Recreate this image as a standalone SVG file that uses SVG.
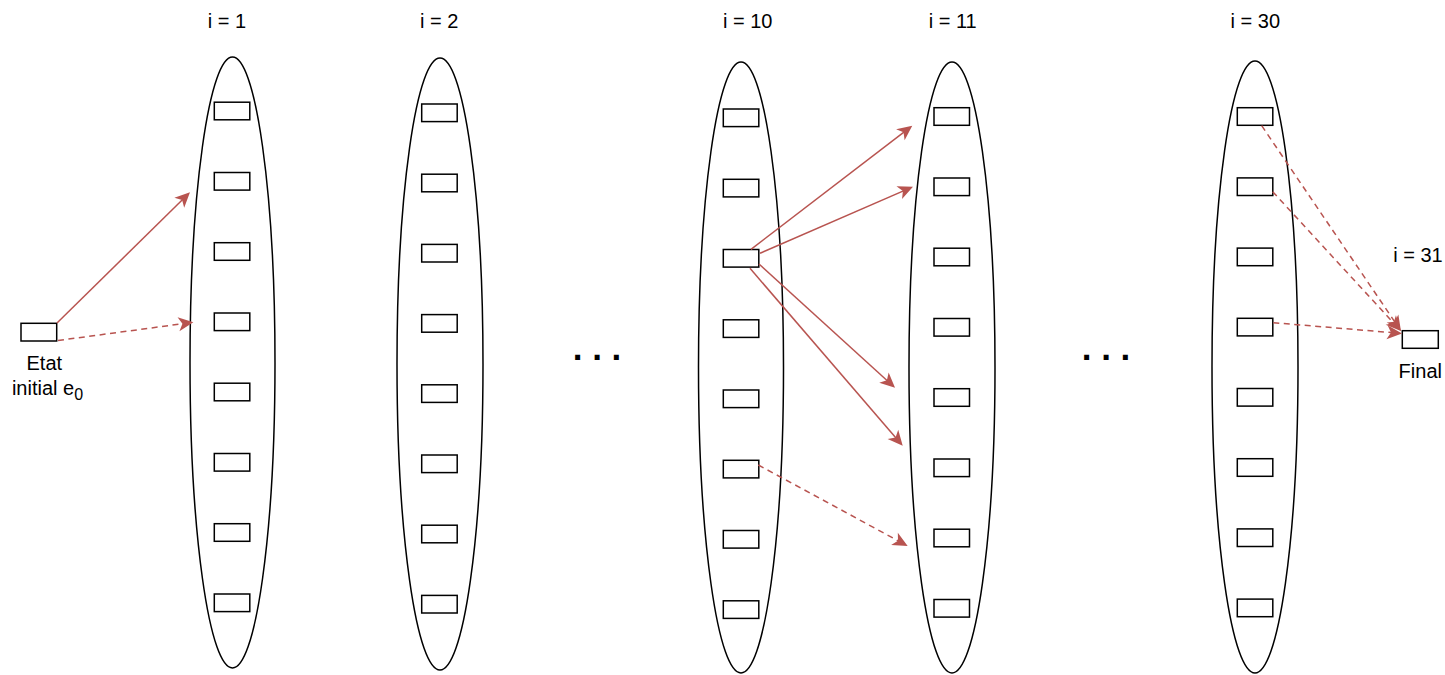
<svg xmlns="http://www.w3.org/2000/svg" width="1445" height="675" viewBox="0 0 1445 675">
<style>
.lane{fill:none;stroke:#000;stroke-width:1.5}
.st{fill:#fff;stroke:#000;stroke-width:1.5}
.lbl{font-family:"Liberation Sans",Arial,sans-serif;font-size:20px;fill:#000;text-anchor:middle}
.dots{font-family:"Liberation Sans",Arial,sans-serif;font-size:35px;font-weight:bold;fill:#000;text-anchor:middle}
.e{fill:none;stroke:#b85450;stroke-width:1.5;marker-end:url(#arr)}
.d{stroke-dasharray:6 4.5}
</style>
<defs>
<marker id="arr" markerUnits="userSpaceOnUse" viewBox="-17 -9 18 18" markerWidth="18" markerHeight="18" refX="-6" refY="0" orient="auto" overflow="visible">
<path d="M0,0 L-15,-7 L-11,0 L-15,7 Z" fill="#b85450" stroke="none"/>
</marker>
</defs>
<rect width="1445" height="675" fill="#fff"/>

<g id="col1">
<ellipse class="lane" cx="232.5" cy="362.5" rx="42.5" ry="305.5"/>
<rect class="st" x="214.3" y="102.2" width="35.5" height="17.6"/>
<rect class="st" x="214.3" y="172.5" width="35.5" height="17.6"/>
<rect class="st" x="214.3" y="242.7" width="35.5" height="17.6"/>
<rect class="st" x="214.3" y="313" width="35.5" height="17.6"/>
<rect class="st" x="214.3" y="383.2" width="35.5" height="17.6"/>
<rect class="st" x="214.3" y="453.5" width="35.5" height="17.6"/>
<rect class="st" x="214.3" y="523.7" width="35.5" height="17.6"/>
<rect class="st" x="214.3" y="594" width="35.5" height="17.6"/>
<text class="lbl" x="227" y="28">i = 1</text>
</g>

<g id="col2">
<ellipse class="lane" cx="440" cy="364" rx="43" ry="306"/>
<rect class="st" x="421.7" y="104" width="35.5" height="17.6"/>
<rect class="st" x="421.7" y="174.2" width="35.5" height="17.6"/>
<rect class="st" x="421.7" y="244.4" width="35.5" height="17.6"/>
<rect class="st" x="421.7" y="314.6" width="35.5" height="17.6"/>
<rect class="st" x="421.7" y="384.8" width="35.5" height="17.6"/>
<rect class="st" x="421.7" y="455" width="35.5" height="17.6"/>
<rect class="st" x="421.7" y="525.2" width="35.5" height="17.6"/>
<rect class="st" x="421.7" y="595.4" width="35.5" height="17.6"/>
<text class="lbl" x="439.3" y="28">i = 2</text>
</g>

<g id="col10">
<ellipse class="lane" cx="741" cy="367.5" rx="42.5" ry="305.5"/>
<rect class="st" x="723.3" y="109" width="35.5" height="17.6"/>
<rect class="st" x="723.3" y="179.3" width="35.5" height="17.6"/>
<rect class="st" x="723.3" y="249.5" width="35.5" height="17.6"/>
<rect class="st" x="723.3" y="319.8" width="35.5" height="17.6"/>
<rect class="st" x="723.3" y="390" width="35.5" height="17.6"/>
<rect class="st" x="723.3" y="460.3" width="35.5" height="17.6"/>
<rect class="st" x="723.3" y="530.5" width="35.5" height="17.6"/>
<rect class="st" x="723.3" y="600.8" width="35.5" height="17.6"/>
<text class="lbl" x="747.7" y="28">i = 10</text>
</g>

<g id="col11">
<ellipse class="lane" cx="952" cy="367.5" rx="43" ry="305.5"/>
<rect class="st" x="934" y="107.7" width="35.5" height="17.6"/>
<rect class="st" x="934" y="178" width="35.5" height="17.6"/>
<rect class="st" x="934" y="248.2" width="35.5" height="17.6"/>
<rect class="st" x="934" y="318.5" width="35.5" height="17.6"/>
<rect class="st" x="934" y="388.7" width="35.5" height="17.6"/>
<rect class="st" x="934" y="459" width="35.5" height="17.6"/>
<rect class="st" x="934" y="529.2" width="35.5" height="17.6"/>
<rect class="st" x="934" y="599.5" width="35.5" height="17.6"/>
<text class="lbl" x="952.7" y="28">i = 11</text>
</g>

<g id="col30">
<ellipse class="lane" cx="1255" cy="367" rx="43" ry="306"/>
<rect class="st" x="1237.3" y="107.7" width="35.5" height="17.6"/>
<rect class="st" x="1237.3" y="177.9" width="35.5" height="17.6"/>
<rect class="st" x="1237.3" y="248.1" width="35.5" height="17.6"/>
<rect class="st" x="1237.3" y="318.3" width="35.5" height="17.6"/>
<rect class="st" x="1237.3" y="388.5" width="35.5" height="17.6"/>
<rect class="st" x="1237.3" y="458.7" width="35.5" height="17.6"/>
<rect class="st" x="1237.3" y="528.9" width="35.5" height="17.6"/>
<rect class="st" x="1237.3" y="599.1" width="35.5" height="17.6"/>
<text class="lbl" x="1255.3" y="28">i = 30</text>
</g>

<g id="initial">
<rect class="st" x="21" y="323.3" width="35.7" height="17.7"/>
<text class="lbl" x="44.3" y="370">Etat</text>
<text class="lbl" x="47.5" y="395">initial e<tspan font-size="16" dy="5">0</tspan></text>
</g>

<g id="final">
<rect class="st" x="1402.3" y="330.7" width="36" height="17.6"/>
<text class="lbl" x="1420.3" y="378">Final</text>
<text class="lbl" x="1418" y="262">i = 31</text>
</g>

<g id="ellipsis1"><text class="dots" x="597" y="359.5">. . .</text></g>
<g id="ellipsis2"><text class="dots" x="1106" y="360">. . .</text></g>

<g id="connectors">
<path class="e" d="M57,323 L185.7,196.5"/>
<path class="e d" d="M58,340.5 L187.4,323.1"/>
<path class="e" d="M751,249.3 L907.5,129.3"/>
<path class="e" d="M760,253.3 L907.5,189.1"/>
<path class="e" d="M759,264 L890.6,383.7"/>
<path class="e" d="M750,268.3 L898.8,441.2"/>
<path class="e d" d="M758.3,465 L902.4,543.1"/>
<path class="e d" d="M1261.7,125.7 L1397.6,326"/>
<path class="e d" d="M1272.7,191.7 L1396.9,326.6"/>
<path class="e d" d="M1273.3,322.7 L1396,333"/>
</g>
</svg>
